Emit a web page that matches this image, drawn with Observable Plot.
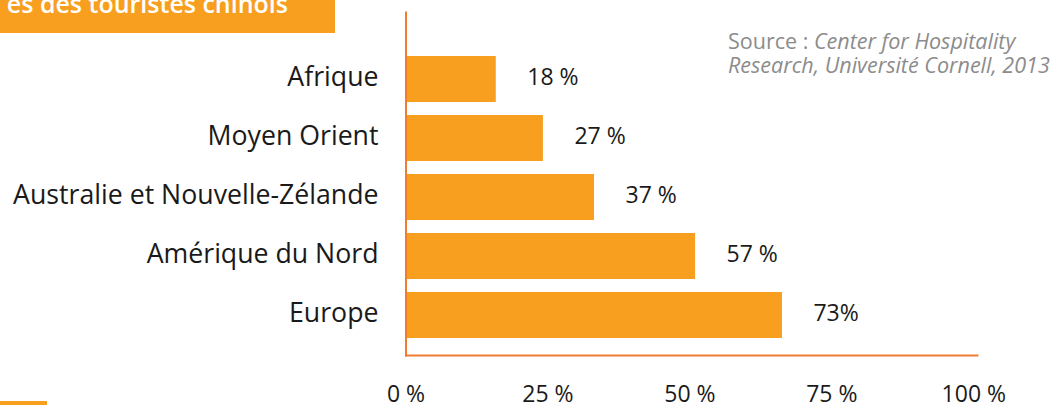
<!DOCTYPE html>
<html>
<head>
<meta charset="utf-8">
<script src="https://cdn.jsdelivr.net/npm/d3@7"></script>
<script src="https://cdn.jsdelivr.net/npm/@observablehq/plot@0.6"></script>
<style>
  body { margin: 0; background: #fff; overflow: hidden; }
  #wrap { position: relative; width: 1056px; height: 405px; overflow: hidden; font-family: 'Open Sans', sans-serif; }
  #chart { position: absolute; left: 0; top: 0; }
  #title { position: absolute; left: 0; top: 0; width: 335px; height: 33px; background: #F89F1F; overflow: hidden; }
  #title span { position: absolute; right: 47px; top: -9.5px; font-size: 25px; line-height: 25px; font-weight: 600; color: #fff; white-space: nowrap; }
  #source { position: absolute; left: 728px; top: 28.5px; font-size: 21.5px; line-height: 24px; color: #8c8c8c; white-space: nowrap; }
  #source i { font-style: italic; }
  #foot { position: absolute; left: 0; top: 401px; width: 47px; height: 4px; background: #F89F1F; }
</style>
</head>
<body>
<div id="wrap">
  <div id="chart"></div>
  <div id="title"><span>es des touristes chinois</span></div>
  <div id="source">Source : <i>Center for Hospitality</i><br><i>Research, Université Cornell, 2013</i></div>
  <div id="foot"></div>
</div>
<script>
// Categories (top to bottom)
const regions = ["Afrique", "Moyen Orient", "Australie et Nouvelle-Zélande", "Amérique du Nord", "Europe"];
// Bar lengths as drawn in the reference (percent on the axis)
const barLengths = [15.9, 24.2, 33.2, 51.0, 66.3];
// Value labels as printed
const valueLabels = ["18 %", "27 %", "37 %", "57 %", "73%"];
// Axis ticks
const xTicks = [0, 25, 50, 75, 100];

const data = regions.map((r, i) => ({region: r, value: barLengths[i], label: valueLabels[i]}));

const chart = Plot.plot({
  width: 1056,
  height: 405,
  marginLeft: 405.5,
  marginRight: 79,
  marginTop: 12,
  marginBottom: 50,
  style: {fontFamily: "'Open Sans', sans-serif", background: "transparent", color: "#1a1a1a"},
  x: {domain: [0, 100], insetRight: 3.7},
  y: {domain: regions, padding: 0.227, insetTop: 29.5, insetBottom: 2.5},
  marks: [
    Plot.barX(data, {y: "region", x: "value", fill: "#F89F1F"}),
    Plot.text(data, {y: "region", x: "value", text: "label", textAnchor: "start", dx: 31, dy: -2, fontSize: 23, fill: "#1a1a1a"}),
    Plot.frame({anchor: "left", stroke: "#F07B33", strokeWidth: 2}),
    Plot.frame({anchor: "bottom", stroke: "#F07B33", strokeWidth: 2}),
    Plot.axisX({ticks: xTicks, tickFormat: d => d + " %", tickSize: 0, tickPadding: 30, fontSize: 23, label: null}),
    Plot.axisY({tickSize: 0, tickPadding: 27.5, dy: -2.5, fontSize: 26.7, label: null})
  ]
});
document.getElementById("chart").appendChild(chart);
</script>
</body>
</html>
